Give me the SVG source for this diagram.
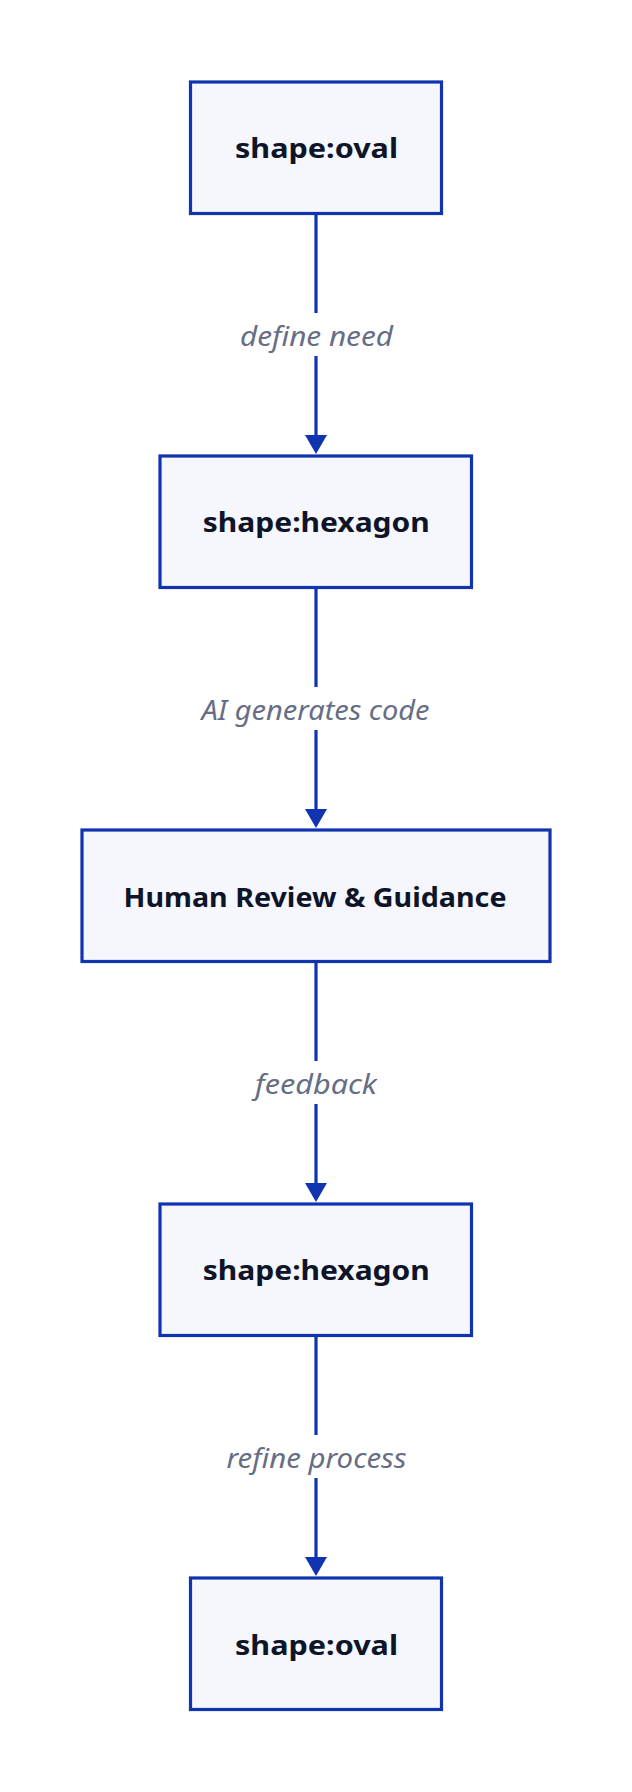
<svg xmlns="http://www.w3.org/2000/svg" width="632" height="1792" viewBox="0 0 632 1792">
<style>
.node rect{fill:#f5f7fc;stroke:#1033b0;stroke-width:3.2}
.node text{font-family:"Noto Sans","Liberation Sans",sans-serif;font-weight:bold;font-size:26px;fill:#0f1529;text-anchor:middle}
.edge line{stroke:#1033b0;stroke-width:3.2}
.edge polygon{fill:#1033b0}
.lbl{font-family:"Noto Sans","Liberation Sans",sans-serif;font-style:italic;font-size:28px;fill:#666d85;text-anchor:middle}
</style>
<rect width="632" height="1792" fill="#ffffff"/>
<g id="connectors" class="edge">
  <g id="e1">
    <line x1="316" y1="214" x2="316" y2="313"/><line x1="316" y1="356" x2="316" y2="437"/>
    <polygon points="316,454 305,435 327,435"/>
    <text class="lbl" x="316.5" y="345.5" textLength="153" lengthAdjust="spacingAndGlyphs">define need</text>
  </g>
  <g id="e2">
    <line x1="316" y1="588" x2="316" y2="687"/><line x1="316" y1="730" x2="316" y2="811"/>
    <polygon points="316,828 305,809 327,809"/>
    <text class="lbl" x="315.5" y="719.5" textLength="228" lengthAdjust="spacingAndGlyphs">AI generates code</text>
  </g>
  <g id="e3">
    <line x1="316" y1="962" x2="316" y2="1061"/><line x1="316" y1="1104" x2="316" y2="1185"/>
    <polygon points="316,1202 305,1183 327,1183"/>
    <text class="lbl" x="316" y="1093.5" textLength="122" lengthAdjust="spacingAndGlyphs">feedback</text>
  </g>
  <g id="e4">
    <line x1="316" y1="1336" x2="316" y2="1435"/><line x1="316" y1="1478" x2="316" y2="1559"/>
    <polygon points="316,1576 305,1557 327,1557"/>
    <text class="lbl" x="316.5" y="1467.5" textLength="180" lengthAdjust="spacingAndGlyphs">refine process</text>
  </g>
</g>
<g id="n1" class="node">
  <rect x="190.5" y="82" width="251" height="131.5"/>
  <text x="316.5" y="158" textLength="163" lengthAdjust="spacingAndGlyphs">shape:oval</text>
</g>
<g id="n2" class="node">
  <rect x="160" y="456" width="311.5" height="131.5"/>
  <text x="316.3" y="532" textLength="227" lengthAdjust="spacingAndGlyphs">shape:hexagon</text>
</g>
<g id="n3" class="node">
  <rect x="82" y="830" width="468" height="131.5"/>
  <text x="315" y="906.5" textLength="383" lengthAdjust="spacingAndGlyphs">Human Review &amp; Guidance</text>
</g>
<g id="n4" class="node">
  <rect x="160" y="1204" width="311.5" height="131.5"/>
  <text x="316.3" y="1280" textLength="227" lengthAdjust="spacingAndGlyphs">shape:hexagon</text>
</g>
<g id="n5" class="node">
  <rect x="190.5" y="1578" width="251" height="131.5"/>
  <text x="316.5" y="1654.5" textLength="163" lengthAdjust="spacingAndGlyphs">shape:oval</text>
</g>
</svg>
